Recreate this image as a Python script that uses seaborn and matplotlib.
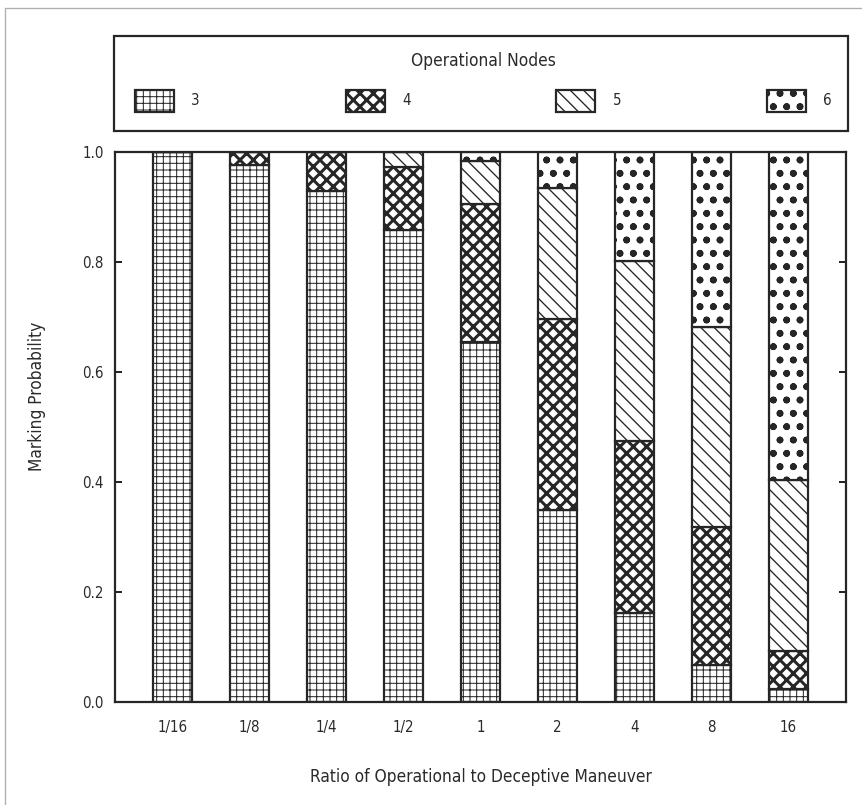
import matplotlib
matplotlib.use("Agg")
import matplotlib.pyplot as plt
import matplotlib.patches as mpatches
from matplotlib.lines import Line2D
import numpy as np
import seaborn as sns

# ---- data ----
categories = ['1/16', '1/8', '1/4', '1/2', '1', '2', '4', '8', '16']
nodes3 = [1.000, 0.976, 0.929, 0.859, 0.655, 0.350, 0.161, 0.068, 0.024]
nodes4 = [0.000, 0.024, 0.071, 0.113, 0.251, 0.347, 0.314, 0.250, 0.069]
nodes5 = [0.000, 0.000, 0.000, 0.028, 0.078, 0.237, 0.326, 0.364, 0.310]
nodes6 = [0.000, 0.000, 0.000, 0.000, 0.016, 0.066, 0.199, 0.318, 0.597]
series_labels = ['3', '4', '5', '6']
yticks = [0.0, 0.2, 0.4, 0.6, 0.8, 1.0]

sns.set_style("white")
plt.rcParams['font.family'] = ['DejaVu Sans']
plt.rcParams['font.stretch'] = 'condensed'
TXT = '#2a2a2a'
EDGE = '#262626'

DPI = 80
fig = plt.figure(figsize=(862 / DPI, 805 / DPI), dpi=DPI)
ax = fig.add_axes([115 / 862, 1 - 702 / 805, (846 - 115) / 862, (702 - 152) / 805])

styles = [
    dict(hatch='++', hlw=0.9),
    dict(hatch='xx', hlw=2.7),
    dict(hatch='\\\\', hlw=1.2),
    dict(hatch='o.', hlw=1.4),
]
series = [nodes3, nodes4, nodes5, nodes6]

bottom = np.zeros(len(categories))
handles = []
for vals, st, lab in zip(series, styles, series_labels):
    with plt.rc_context({'hatch.linewidth': st['hlw'], 'hatch.color': 'black'}):
        n_before = len(ax.patches)
        sns.barplot(x=categories, y=vals, order=categories, bottom=bottom,
                    width=0.5, color='white', edgecolor=EDGE, linewidth=2.0,
                    hatch=st['hatch'], saturation=1, ax=ax, zorder=2)
        for p in ax.patches[n_before:]:
            p.set_facecolor('white')
            if hasattr(p, 'set_hatch_linewidth'):
                p.set_hatch_linewidth(st['hlw'])
        h = mpatches.Patch(facecolor='white', edgecolor=EDGE, linewidth=2.0,
                           hatch=st['hatch'], label=lab)
        handles.append(h)
    bottom = bottom + np.array(vals)

ax.set_xlim(-0.75, 8.75)
ax.set_ylim(0, 1.0)
ax.set_yticks(yticks)
ax.set_yticklabels([f'{v:.1f}' for v in yticks])
ax.tick_params(axis='y', direction='in', length=6.5, width=1.8, color=EDGE,
               left=True, right=True, labelsize=13.5, labelcolor=TXT, pad=10)
ax.tick_params(axis='x', length=0, labelsize=13.5, labelcolor=TXT, pad=16)
for s in ax.spines.values():
    s.set_visible(True)
    s.set_color(EDGE)
    s.set_linewidth(2.0)
    s.set_zorder(3)

ax.set_xlabel('Ratio of Operational to Deceptive Maneuver', fontsize=15.5, color=TXT,
              va='center')
ax.xaxis.set_label_coords(0.5, (702 - 777) / (702 - 152))
ax.set_ylabel('Marking Probability', fontsize=15.5, color=TXT, va='center')
ax.yaxis.set_label_coords((37 - 115) / (846 - 115), (702 - 396) / (702 - 152))

# legend frame
fig.patches.append(mpatches.Rectangle((114 / 862, 1 - 131 / 805), 734 / 862, 95 / 805,
                                      transform=fig.transFigure, fill=False,
                                      edgecolor=EDGE, linewidth=2.0))
leg = fig.legend(handles=handles, ncol=4, mode='expand', frameon=False,
                 loc='upper left',
                 bbox_to_anchor=(135 / 862, 1 - 52 / 805, (832 - 135) / 862, 0.0),
                 bbox_transform=fig.transFigure,
                 title='Operational Nodes', title_fontsize=15.5, fontsize=13.5,
                 handlelength=2.6, handleheight=1.88, handletextpad=1.15,
                 labelspacing=1.3, borderpad=0, borderaxespad=0)
leg.get_title().set_color(TXT)
for t in leg.get_texts():
    t.set_color(TXT)
for lh, st in zip(leg.legend_handles, styles):
    if hasattr(lh, 'set_hatch_linewidth'):
        lh.set_hatch_linewidth(st['hlw'])

# outer light border
fig.add_artist(Line2D([5 / 862, 5 / 862], [0, 1 - 8 / 805], transform=fig.transFigure,
                      color='#b0b0b0', linewidth=1.2))
fig.add_artist(Line2D([5 / 862, 1], [1 - 8 / 805, 1 - 8 / 805], transform=fig.transFigure,
                      color='#b0b0b0', linewidth=1.2))

fig.savefig('out.png', dpi=DPI, facecolor='white')
